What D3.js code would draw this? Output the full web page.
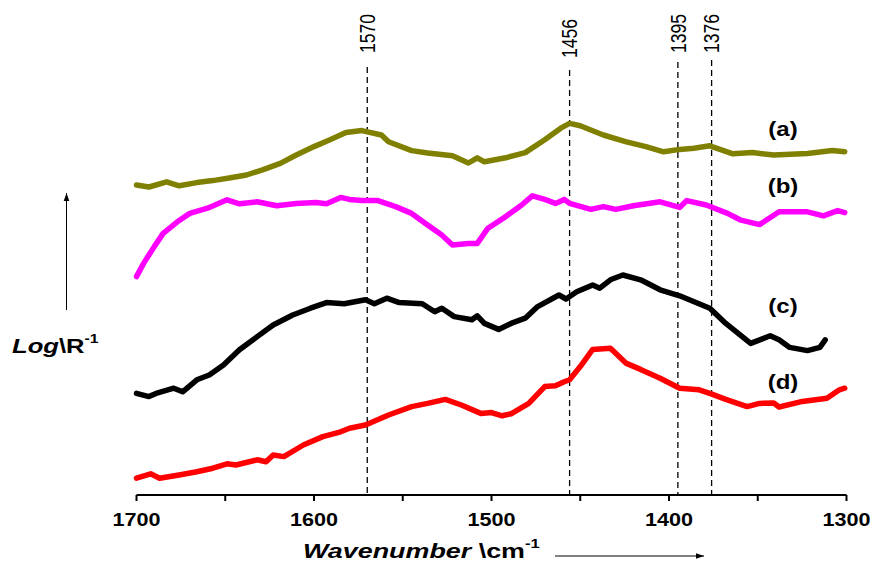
<!DOCTYPE html>
<html>
<head>
<meta charset="utf-8">
<script src="https://cdn.jsdelivr.net/npm/d3@7"></script>
<style>
  html, body { margin: 0; padding: 0; background: #fff; }
  svg { display: block; font-family: Arial, "Liberation Sans", sans-serif; }
</style>
</head>
<body>
<svg id="chart" width="871" height="563"></svg>
<script>
// ---- Data (arbitrary Log(1/R) units, offset per spectrum) ----
const xTicks = [1700, 1600, 1500, 1400, 1300];
const xMinorTicks = [1650, 1550, 1450, 1350];
const peakLines = [1570, 1456, 1395, 1376];
const seriesNames = ["(a)", "(b)", "(c)", "(d)"];
const seriesColors = ["#808000", "#ff00ff", "#000000", "#ff0000"];

const wnA = [1700,1693,1683,1676,1666,1657,1647,1638,1629,1619,1610,1600,1591,1582,1573,1562,1558,1545,1536,1522,1513,1508,1504,1492,1481,1470,1461,1456,1450,1437,1424,1413,1403,1394,1386,1377,1364,1353,1341,1322,1308,1301];
const valA = [77.5,77.0,78.3,77.3,78.1,78.6,79.3,80.0,81.3,82.9,85.0,87.1,88.8,90.6,91.1,90.0,88.3,86.1,85.5,84.8,83.0,84.3,83.3,84.3,85.6,88.8,91.7,92.9,92.3,90.0,88.3,87.1,85.8,86.4,86.7,87.3,85.3,85.6,85.0,85.4,86.1,85.8];

const wnB = [1700,1696,1690,1685,1677,1670,1660,1649,1642,1632,1621,1610,1599,1593,1585,1580,1573,1564,1554,1545,1536,1528,1522,1513,1508,1502,1492,1483,1477,1470,1464,1459,1456,1444,1437,1430,1420,1405,1394,1390,1379,1367,1360,1349,1338,1322,1313,1305,1301];
const valB = [54.6,57.9,62.1,65.4,68.3,70.4,71.7,73.8,72.8,73.3,72.3,72.9,73.1,72.8,74.4,73.9,73.6,73.6,72.1,70.4,67.5,65.0,62.5,62.9,62.9,66.7,69.6,72.5,74.8,73.9,72.9,73.9,72.9,71.4,72.1,71.4,72.3,73.3,71.9,73.6,72.5,70.4,68.8,67.6,70.8,70.8,69.8,71.1,70.6];

const wnC = [1700,1693,1689,1679,1674,1666,1659,1651,1642,1632,1623,1612,1602,1593,1583,1571,1566,1559,1552,1539,1532,1528,1521,1511,1508,1504,1496,1489,1481,1474,1462,1458,1452,1443,1439,1433,1426,1416,1405,1394,1377,1368,1354,1343,1338,1332,1322,1315,1312];
const valC = [25.4,24.6,25.4,26.7,25.8,28.8,30.0,32.5,36.3,39.6,42.5,45.0,46.7,48.1,47.8,48.8,47.8,49.2,48.1,47.8,45.8,46.7,44.6,43.8,44.8,42.9,41.4,42.9,44.2,47.1,50.0,49.0,50.8,52.5,51.7,53.8,55.0,53.8,51.3,49.8,46.7,42.9,37.9,39.8,38.8,36.9,36.1,36.9,38.8];

const wnD = [1700,1692,1687,1676,1666,1657,1649,1644,1632,1627,1623,1617,1606,1595,1585,1580,1571,1558,1545,1536,1526,1517,1506,1500,1494,1489,1479,1470,1464,1459,1456,1450,1443,1433,1424,1416,1405,1394,1383,1377,1368,1356,1349,1341,1338,1326,1311,1304,1301];
const valD = [4.2,5.3,4.2,5.0,5.8,6.7,7.8,7.5,8.8,8.3,10.0,9.6,12.5,14.6,15.8,16.7,17.5,20.0,22.1,22.9,23.9,22.5,20.4,20.6,19.8,20.3,22.9,27.1,27.3,28.3,28.8,32.1,36.4,36.7,32.9,31.4,29.2,26.7,26.3,25.4,23.9,22.1,22.9,23.0,22.0,23.3,24.2,26.3,26.7];

const allWn = [wnA, wnB, wnC, wnD];
const allVal = [valA, valB, valC, valD];

// ---- Layout ----
const svg = d3.select("#chart");
const x = d3.scaleLinear().domain([1700, 1300]).range([136.5, 846.5]);
const y = d3.scaleLinear().domain([0, 100]).range([495, 95]);

// Peak dashed lines + rotated labels
const lineTops = {1570: 67, 1456: 70, 1395: 62, 1376: 60};
const labelBottoms = {1570: 53, 1456: 58, 1395: 53, 1376: 53};
peakLines.forEach(p => {
  svg.append("line")
    .attr("x1", x(p)).attr("x2", x(p))
    .attr("y1", lineTops[p]).attr("y2", y(0))
    .attr("stroke", "#000").attr("stroke-width", 1.3)
    .attr("stroke-dasharray", "6,4");
  svg.append("text")
    .attr("transform", `translate(${x(p)},${labelBottoms[p]}) scale(1.25,1) rotate(-90)`)
    .attr("dy", "0.36em")
    .attr("font-size", 17.5)
    .attr("fill", "#000")
    .text(p);
});

// Spectra
const line = d3.line().x(d => x(d[0])).y(d => y(d[1])).curve(d3.curveLinear);
allWn.forEach((wn, i) => {
  const pts = wn.map((w, j) => [w, allVal[i][j]]);
  svg.append("path")
    .datum(pts)
    .attr("d", line)
    .attr("fill", "none")
    .attr("stroke", seriesColors[i])
    .attr("stroke-width", 5.5)
    .attr("stroke-linejoin", "round")
    .attr("stroke-linecap", "round");
});

// Series labels
const labelY = [136, 193, 313, 389];
seriesNames.forEach((n, i) => {
  svg.append("text")
    .attr("transform", `translate(783,${labelY[i]}) scale(1.2,1)`)
    .attr("text-anchor", "middle")
    .attr("font-size", 20).attr("font-weight", "bold")
    .attr("fill", "#000")
    .text(n);
});

// X axis
const axisG = svg.append("g");
axisG.append("line")
  .attr("x1", x(1700)).attr("x2", x(1300))
  .attr("y1", y(0)).attr("y2", y(0))
  .attr("stroke", "#000").attr("stroke-width", 2);
xTicks.concat(xMinorTicks).forEach(t => {
  axisG.append("line")
    .attr("x1", x(t)).attr("x2", x(t))
    .attr("y1", y(0)).attr("y2", y(0) + 6)
    .attr("stroke", "#000").attr("stroke-width", 2);
});
xTicks.forEach(t => {
  axisG.append("text")
    .attr("transform", `translate(${x(t)},526) scale(1.2,1)`)
    .attr("text-anchor", "middle")
    .attr("font-size", 18).attr("font-weight", "bold")
    .attr("fill", "#000")
    .text(t);
});

// X axis title
const xt = svg.append("text")
  .attr("transform", "translate(303,558) scale(1.28,1)")
  .attr("font-size", 21).attr("font-weight", "bold").attr("fill", "#000");
xt.append("tspan").attr("font-style", "italic").text("Wavenumber");
xt.append("tspan").text(" \\cm");
xt.append("tspan").attr("font-size", 13).attr("dy", "-0.75em").text("-1");

// Y axis title
const yt = svg.append("text")
  .attr("transform", "translate(12,353) scale(1.22,1)")
  .attr("font-size", 21).attr("font-weight", "bold").attr("fill", "#000");
yt.append("tspan").attr("font-style", "italic").text("Log");
yt.append("tspan").text("\\R");
yt.append("tspan").attr("font-size", 13).attr("dy", "-0.75em").text("-1");

// Arrows
const defs = svg.append("defs");
defs.append("marker")
  .attr("id", "arrow").attr("viewBox", "0 0 10 10")
  .attr("refX", 10).attr("refY", 5)
  .attr("markerWidth", 8).attr("markerHeight", 8)
  .attr("markerUnits", "userSpaceOnUse")
  .attr("orient", "auto")
  .append("path").attr("d", "M0,1.5 L10,5 L0,8.5 Z").attr("fill", "#000");
svg.append("line")
  .attr("x1", 66.5).attr("x2", 66.5).attr("y1", 310).attr("y2", 193)
  .attr("stroke", "#000").attr("stroke-width", 1)
  .attr("marker-end", "url(#arrow)");
svg.append("line")
  .attr("x1", 555).attr("x2", 704).attr("y1", 556).attr("y2", 556)
  .attr("stroke", "#000").attr("stroke-width", 1)
  .attr("marker-end", "url(#arrow)");
</script>
</body>
</html>
